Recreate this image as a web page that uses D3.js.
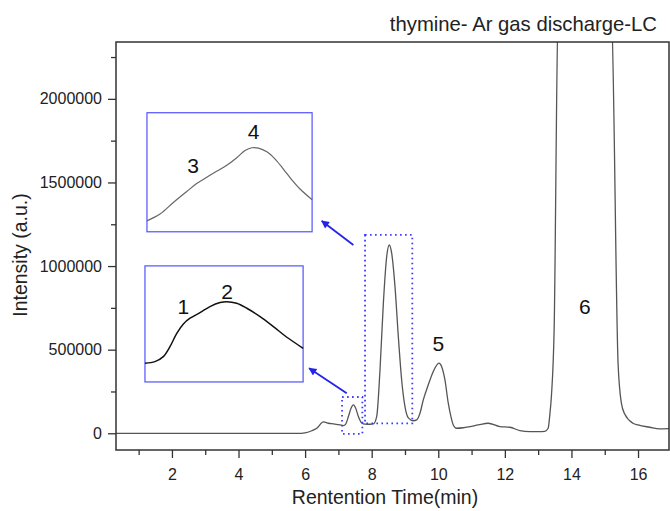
<!DOCTYPE html>
<html>
<head>
<meta charset="utf-8">
<script src="https://cdn.jsdelivr.net/npm/d3@7/dist/d3.min.js"></script>
<style>
  html, body { margin: 0; padding: 0; background: #fff; }
  svg { display: block; font-family: "Liberation Sans", Arial, sans-serif; }
</style>
</head>
<body>
<svg id="chart" width="670" height="511"></svg>
<script>
// Chromatogram: retention time (min) vs. detector intensity
const retentionTime = [0.32, 5.9, 6.0, 6.2, 6.35, 6.55, 6.7, 6.85, 7.05, 7.15, 7.22, 7.3, 7.38, 7.45, 7.52, 7.6, 7.7, 7.8, 7.95, 8.05,
  8.15, 8.25, 8.35, 8.45, 8.53, 8.6, 8.7, 8.8, 8.9, 9.0, 9.1, 9.25, 9.35, 9.45, 9.55, 9.7, 9.85, 10.02, 10.1, 10.2, 10.3, 10.38,
  10.45, 10.55, 10.75, 10.95, 11.2, 11.5, 11.85, 12.15, 12.45, 12.75, 13.0, 13.2, 13.3, 13.35, 13.4, 13.48, 13.6, 14.4, 15.2,
  15.4, 15.5, 15.6, 15.85, 16.0, 16.35, 16.65, 16.95];
const intensity = [0, 0, 3000, 15000, 30000, 68000, 60000, 56000, 50000, 46000, 55000, 100000, 150000, 170000, 150000, 100000, 62000, 55000, 54000, 56000,
  100000, 380000, 777000, 1056000, 1126000, 1077000, 877000, 578000, 319000, 159000, 92000, 75000, 80000, 120000, 200000, 290000, 370000, 420000, 400000, 319000, 180000, 100000,
  50000, 30000, 33000, 40000, 50000, 60000, 40000, 36000, 16000, 10000, 10000, 12000, 30000, 110000, 228000, 620000, 2500000, 2600000, 2500000,
  420000, 180000, 115000, 60000, 50000, 36000, 26000, 28000];

// Tick values
const xMajorTicks = [2, 4, 6, 8, 10, 12, 14, 16];
const xMinorTicks = [1, 3, 5, 7, 9, 11, 13, 15];
const yMajorTicks = [0, 500000, 1000000, 1500000, 2000000];
const yMinorTicks = [250000, 750000, 1250000, 1750000, 2250000];

// Peak labels [time, intensity, text]
const peakLabels = [[10.0, 538000, "5"], [14.4, 757000, "6"]];

// Highlighted regions (dotted boxes) [t0, t1, i0, i1]
const regions = [[7.11, 7.72, -4000, 217000], [7.8, 9.22, 59000, 1186000]];

// Magnified views: placement [t0, t1, i0, i1] and normalised profile
const insetLower = { box: [1.19, 5.94, 307000, 1001000], color: "#111", width: 1.5,
  u: [0, 0.063, 0.116, 0.158, 0.201, 0.243, 0.285, 0.348, 0.411, 0.475, 0.517, 0.580, 0.644, 0.728, 0.812, 0.897, 1.0],
  v: [0.161, 0.175, 0.218, 0.304, 0.419, 0.500, 0.549, 0.597, 0.649, 0.684, 0.692, 0.678, 0.635, 0.563, 0.477, 0.385, 0.290],
  labels: [[0.243, 0.65, "1"], [0.52, 0.78, "2"]] };
const insetUpper = { box: [1.25, 6.21, 1205000, 1917000], color: "#666", width: 1.2,
  u: [0, 0.079, 0.160, 0.241, 0.301, 0.362, 0.422, 0.483, 0.544, 0.594, 0.635, 0.675, 0.726, 0.776, 0.826, 0.877, 0.927, 1.0],
  v: [0.092, 0.149, 0.246, 0.338, 0.405, 0.458, 0.508, 0.558, 0.622, 0.682, 0.706, 0.703, 0.672, 0.611, 0.527, 0.437, 0.359, 0.269],
  labels: [[0.28, 0.56, "3"], [0.645, 0.84, "4"]] };

// Arrows from regions to magnified views [t0, i0, t1, i1]
const arrows = [[7.25, 239000, 6.12, 389000], [7.45, 1126000, 6.5, 1270000]];

const svg = d3.select("#chart");
const plotLeft = 116, plotRight = 669, plotTop = 42, plotBottom = 450;

const x = d3.scaleLinear().domain([0.32, 16.93]).range([plotLeft, plotRight]);
const y = d3.scaleLinear().domain([-100000, 2340000]).range([plotBottom, plotTop]);

const defs = svg.append("defs");
defs.append("clipPath").attr("id", "plotClip")
  .append("rect").attr("x", plotLeft).attr("y", plotTop)
  .attr("width", plotRight - plotLeft).attr("height", plotBottom - plotTop);

const marker = defs.append("marker")
  .attr("id", "arrowHead").attr("viewBox", "0 0 10 10").attr("refX", 9).attr("refY", 5)
  .attr("markerWidth", 10).attr("markerHeight", 8).attr("markerUnits", "userSpaceOnUse")
  .attr("orient", "auto");
marker.append("path").attr("d", "M0,0 L10,5 L0,10 Z").attr("fill", "#2424e8");

// Axes
const axisColor = "#333";
function styleAxis(g) {
  g.select(".domain").remove();
  g.selectAll(".tick line").attr("stroke", axisColor).attr("stroke-width", 1.3);
  g.selectAll(".tick text").attr("fill", "#222").style("font-size", "16px");
}
svg.append("g").attr("transform", `translate(0,${plotBottom})`)
  .call(d3.axisBottom(x).tickValues(xMajorTicks).tickSize(8).tickPadding(11).tickFormat(d3.format("d")))
  .call(styleAxis);
svg.append("g").attr("transform", `translate(0,${plotBottom})`)
  .call(d3.axisBottom(x).tickValues(xMinorTicks).tickSize(5).tickFormat(""))
  .call(styleAxis);
svg.append("g").attr("transform", `translate(${plotLeft},0)`)
  .call(d3.axisLeft(y).tickValues(yMajorTicks).tickSize(8).tickPadding(6).tickFormat(d3.format("d")))
  .call(styleAxis);
svg.append("g").attr("transform", `translate(${plotLeft},0)`)
  .call(d3.axisLeft(y).tickValues(yMinorTicks).tickSize(5).tickFormat(""))
  .call(styleAxis);

// Chromatogram trace
const line = d3.line().x(d => x(d[0])).y(d => y(d[1])).curve(d3.curveMonotoneX);
svg.append("path")
  .datum(retentionTime.map((t, i) => [t, intensity[i]]))
  .attr("clip-path", "url(#plotClip)")
  .attr("fill", "none").attr("stroke", "#555").attr("stroke-width", 1.3)
  .attr("d", line);

// Plot frame
svg.append("rect").attr("x", plotLeft).attr("y", plotTop)
  .attr("width", plotRight - plotLeft).attr("height", plotBottom - plotTop)
  .attr("fill", "none").attr("stroke", axisColor).attr("stroke-width", 1.5);

// Dotted region boxes
svg.selectAll(".region").data(regions).join("rect").attr("class", "region")
  .attr("x", d => x(d[0])).attr("y", d => y(d[3]))
  .attr("width", d => x(d[1]) - x(d[0])).attr("height", d => y(d[2]) - y(d[3]))
  .attr("fill", "none").attr("stroke", "#3a3aff").attr("stroke-width", 1.8)
  .attr("stroke-dasharray", "1.6,3.4");

// Arrows
svg.selectAll(".arrow").data(arrows).join("line").attr("class", "arrow")
  .attr("x1", d => x(d[0])).attr("y1", d => y(d[1]))
  .attr("x2", d => x(d[2])).attr("y2", d => y(d[3]))
  .attr("stroke", "#2424e8").attr("stroke-width", 1.8)
  .attr("marker-end", "url(#arrowHead)");

// Magnified views
[insetLower, insetUpper].forEach(inset => {
  const [t0, t1, i0, i1] = inset.box;
  const sx = d3.scaleLinear().domain([0, 1]).range([x(t0), x(t1)]);
  const sy = d3.scaleLinear().domain([0, 1]).range([y(i0), y(i1)]);
  const g = svg.append("g");
  g.append("rect").attr("x", x(t0)).attr("y", y(i1))
    .attr("width", x(t1) - x(t0)).attr("height", y(i0) - y(i1))
    .attr("fill", "#fff").attr("stroke", "#5252ff").attr("stroke-width", 1.2);
  g.append("path")
    .datum(inset.u.map((u, i) => [u, inset.v[i]]))
    .attr("fill", "none").attr("stroke", inset.color).attr("stroke-width", inset.width)
    .attr("d", d3.line().x(d => sx(d[0])).y(d => sy(d[1])).curve(d3.curveCatmullRom.alpha(0.5)));
  g.selectAll("text").data(inset.labels).join("text")
    .attr("x", d => sx(d[0])).attr("y", d => sy(d[1]))
    .attr("text-anchor", "middle").attr("dy", "0.36em")
    .attr("fill", "#111").style("font-size", "21px")
    .text(d => d[2]);
});

// Peak labels
svg.selectAll(".peak").data(peakLabels).join("text").attr("class", "peak")
  .attr("x", d => x(d[0])).attr("y", d => y(d[1]))
  .attr("text-anchor", "middle").attr("dy", "0.36em")
  .attr("fill", "#111").style("font-size", "21px")
  .text(d => d[2]);

// Titles
svg.append("text").attr("x", 657).attr("y", 31).attr("text-anchor", "end")
  .attr("fill", "#222").style("font-size", "20.3px")
  .text("thymine- Ar gas discharge-LC");
svg.append("text").attr("x", 385).attr("y", 504).attr("text-anchor", "middle")
  .attr("fill", "#222").style("font-size", "19.5px")
  .text("Rentention Time(min)");
svg.append("text").attr("transform", "translate(27,255) rotate(-90)").attr("text-anchor", "middle")
  .attr("fill", "#222").style("font-size", "19.5px")
  .text("Intensity (a.u.)");
</script>
</body>
</html>
